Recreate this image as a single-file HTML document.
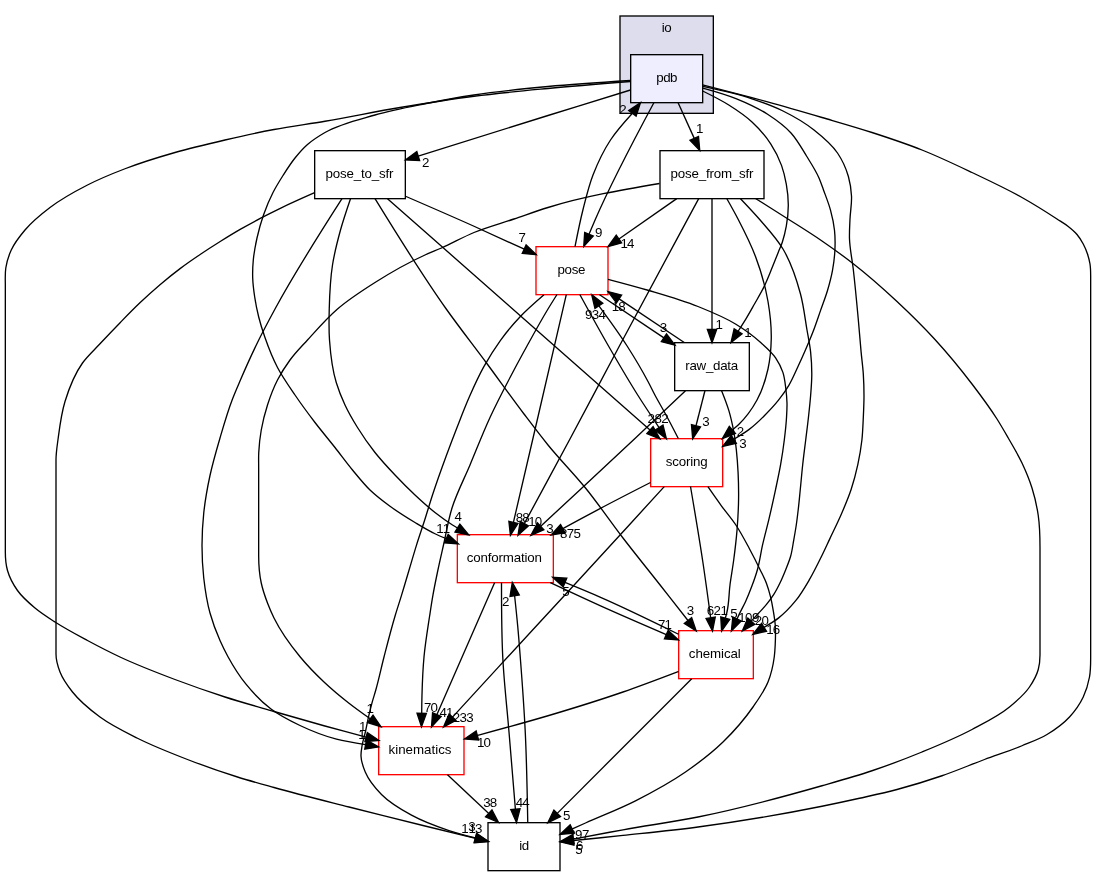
<!DOCTYPE html>
<html lang="en"><head><meta charset="utf-8"><title>src/core/io/pdb Directory Reference</title>
<style>html,body{margin:0;padding:0;background:#fff}svg{display:block;will-change:transform}text{font-family:"Liberation Sans", "DejaVu Sans", sans-serif;font-size:13.33px;fill:#000;text-anchor:middle}.e{fill:none;stroke:#000;stroke-width:1.33}.a{fill:#000;stroke:#000;stroke-width:1.33}.n{stroke-width:1.33}</style></head><body>
<svg width="1096" height="876" viewBox="0 0 1096 876">
<rect x="0" y="0" width="1096" height="876" fill="#fff"/>
<rect class="n" x="620" y="16" width="93.33" height="97.33" fill="#ddddee" stroke="#000"/>
<text x="666.66" y="32.1" textLength="10" lengthAdjust="spacing">io</text>
<rect class="n" x="630.67" y="54.67" width="72" height="48" fill="#eeeeff" stroke="black"/>
<text x="666.87" y="82.37" textLength="21" lengthAdjust="spacing">pdb</text>
<rect class="n" x="314.67" y="150.67" width="90.66" height="48" fill="none" stroke="black"/>
<text x="359.4" y="178.37" textLength="68" lengthAdjust="spacing">pose_to_sfr</text>
<rect class="n" x="660" y="150.67" width="104" height="48" fill="none" stroke="black"/>
<text x="712" y="178.37" textLength="83" lengthAdjust="spacing">pose_from_sfr</text>
<rect class="n" x="536" y="246.67" width="72" height="48" fill="white" stroke="red"/>
<text x="571.5" y="274.37" textLength="28" lengthAdjust="spacing">pose</text>
<rect class="n" x="674.67" y="342.67" width="74.66" height="48" fill="none" stroke="black"/>
<text x="711.7" y="370.37" textLength="53" lengthAdjust="spacing">raw_data</text>
<rect class="n" x="650.67" y="438.67" width="72" height="48" fill="white" stroke="red"/>
<text x="686.67" y="466.37" textLength="42" lengthAdjust="spacing">scoring</text>
<rect class="n" x="457.33" y="534.67" width="96" height="48" fill="white" stroke="red"/>
<text x="504.33" y="562.37" textLength="75" lengthAdjust="spacing">conformation</text>
<rect class="n" x="678.67" y="630.67" width="74.66" height="48" fill="white" stroke="red"/>
<text x="714.8" y="658.37" textLength="52" lengthAdjust="spacing">chemical</text>
<rect class="n" x="378.67" y="726.67" width="85.33" height="48" fill="white" stroke="red"/>
<text x="420.04" y="754.37" textLength="63" lengthAdjust="spacing">kinematics</text>
<rect class="n" x="488" y="822.67" width="72" height="48" fill="none" stroke="black"/>
<text x="524.2" y="850.37" textLength="10" lengthAdjust="spacing">id</text>
<!-- edge pdb to kinematics -->
<path class="e" d="M630.5,81.5C602.99,83.69 575.47,85.88 548,88.5C523.31,90.85 498.59,93.1 474,96.25C449.26,99.42 424.6,103.38 400,107.5C374.94,111.7 350.05,116.98 325,121.25C308.02,124.14 290.92,126.31 274,129.5C257.59,132.59 241.27,136.23 225,140C208.27,143.88 191.5,147.77 175,152.5C158.16,157.33 141.34,162.46 125,168.75C112.3,173.64 99.6,178.81 87.5,185C74.55,191.62 61.56,198.73 50,207.5C41.11,214.25 32.18,221.49 25,230C19.82,236.14 14.57,242.73 11.25,250C8.68,255.64 6.75,261.86 5.8,268C4.94,273.55 5.33,279.33 5.33,285L5.33,552C5.33,558.21 5.84,564.61 7.5,570.5C9.49,577.57 13.25,584.5 17.5,590.5C22.21,597.15 28.7,602.72 35,608C41.21,613.21 48.17,617.59 55,622C65.46,628.76 76.52,634.6 87.5,640.5C98.2,646.25 109.01,651.84 120,657C137.92,665.41 156.47,672.51 175,679.5C191.51,685.74 208.2,691.59 225,697C241.21,702.22 257.64,706.75 274,711.5C290.64,716.33 307.29,721.14 324,725.75C338.01,729.62 352.07,733.33 366.12,737.05"/><polygon class="a" points="364.92,741.56 379,740.5 367.33,732.54"/>
<!-- edge pdb to conformation -->
<path class="e" d="M630.5,80.5C602.97,82.2 575.44,83.9 548,86.5C523.29,88.84 498.53,91.25 474,95C457.61,97.51 441.26,100.48 425,103.75C408.26,107.12 391.4,110.32 375,115C358.05,119.84 340.16,123.7 325,132.5C318.93,136.02 312.78,139.86 307.5,144.5C302.92,148.52 298.84,153.24 295,158C290.57,163.49 286.79,169.53 283,175.5C279.48,181.05 275.99,186.66 273,192.5C269.3,199.73 266.19,207.33 263.5,215C260.87,222.5 258.73,230.24 257,238C255.39,245.25 253.99,252.61 253.3,260C252.74,265.96 252.5,272.01 252.7,278C252.91,284.35 253.75,290.71 254.7,297C255.71,303.72 257.05,310.41 258.7,317C260.4,323.75 262.52,330.42 264.8,337C268.41,347.39 272.42,357.77 277.5,367.5C282.51,377.1 288.89,386.02 295,395C301.37,404.37 308.12,413.5 315,422.5C321.48,430.98 328.39,439.12 335,447.5C340.88,454.96 346.45,462.68 352.5,470C358.14,476.82 363.64,483.88 370,490C376.17,495.93 383.09,501.17 390,506.25C398,512.12 406.48,517.39 415,522.5C421.56,526.43 428.11,530.45 435,533.75C438.7,535.52 442.49,537.1 446.28,538.67"/><polygon class="a" points="444.41,542.95 458.5,544 448.15,534.39"/>
<!-- edge pdb to pose_to_sfr -->
<path class="e" d="M630.5,90C603,98.48 575.49,106.97 548,115.5C504.72,128.93 461.47,142.48 418.22,156.03"/><polygon class="a" points="416.83,151.57 405.5,160 419.62,160.48"/>
<!-- edge pose to pdb -->
<path class="e" d="M575,246.67C577.42,234.39 579.84,222.12 582.9,210C585.87,198.23 588.64,186.28 593,175C597.69,162.89 603.37,150.83 610.5,140C616.8,130.43 624.6,121.85 632.41,113.27"/><polygon class="a" points="636.13,116.1 640.5,102.67 628.7,110.43"/>
<!-- edge pdb to pose -->
<path class="e" d="M654,102.5C633.42,140.83 612.85,179.17 595.5,219C593.29,224.06 591.14,229.15 588.99,234.24"/><polygon class="a" points="584.69,232.41 583.75,246.5 593.28,236.08"/>
<!-- edge pdb to pose_from_sfr -->
<path class="e" d="M678,102.5L694.25,138.36"/><polygon class="a" points="689.99,140.29 699.75,150.5 698.5,136.43"/>
<!-- edge pdb to id -->
<path class="e" d="M702.5,84.8C724.24,90.37 745.97,95.94 767.6,101.9C785.78,106.91 803.9,112.19 822,117.5C838.7,122.4 855.45,127.13 872,132.5C888.79,137.95 905.61,143.47 922,150C938.96,156.76 955.49,164.67 972,172.5C988.83,180.49 1005.79,188.35 1022,197.5C1033.91,204.22 1045.54,211.51 1057,219C1060.77,221.47 1064.73,223.71 1068.25,226.5C1071.34,228.94 1074.46,231.51 1077,234.5C1079.43,237.37 1081.47,240.67 1083.25,244C1084.95,247.18 1086.36,250.57 1087.5,254C1088.58,257.25 1089.46,260.62 1090,264C1090.63,267.94 1090.67,271.99 1090.67,276L1090.67,655C1090.67,662.34 1090.81,669.83 1089.5,677C1088.25,683.82 1086.2,690.76 1083.25,697C1079.83,704.23 1074.91,711.12 1069.5,717C1063.14,723.91 1055.09,729.65 1047,734.5C1039.22,739.16 1030.43,742.25 1022,745.75C1009.71,750.86 996.97,754.84 984.5,759.5C970.29,764.81 956.33,770.82 942,775.75C927.18,780.85 912.15,785.48 897,789.5C884.6,792.79 872.03,795.45 859.5,798.25C847.03,801.04 834.52,803.71 822,806.25C780.93,814.57 739.53,821.49 698,827C673.07,830.31 648.01,832.73 623,835.4C606.49,837.16 589.98,838.85 573.46,840.53"/><polygon class="a" points="572.98,835.88 560.2,841.9 573.94,845.17"/>
<!-- edge pdb to chemical -->
<path class="e" d="M702.67,86.4C719.31,89.91 735.96,93.41 752,98.8C762.51,102.33 773.08,106.1 783,111C793.83,116.34 804.54,122.54 814,130C822.55,136.75 831.47,144.06 837.5,153C842.25,160.04 846.06,168.27 848.4,176.5C850.18,182.77 851.14,189.47 851.5,196C851.92,203.62 850.34,211.33 850,219C849.71,225.66 849.27,232.35 849.5,239C849.85,249.04 852.09,258.99 853.25,269C855.17,285.64 856.72,302.32 858.25,319C859.26,329.96 860.06,340.94 861.1,351.9C861.79,359.24 862.82,366.55 863.3,373.9C863.78,381.18 864,388.5 864,395.8C864,403.1 863.64,410.41 863.3,417.7C862.95,425.14 862.72,432.61 861.9,440C860.98,448.28 859.56,456.55 857.8,464.7C856.01,472.99 853.86,481.25 851.2,489.3C848.43,497.7 844.91,505.87 841.4,514C837.82,522.31 833.75,530.41 829.9,538.6C827.17,544.4 824.53,550.25 821.7,556C817.78,563.99 813.89,572.03 809.4,579.7C805.18,586.9 800.94,594.24 795.7,600.7C790.58,607.02 784.83,613.12 778.4,618.1C773.93,621.57 768.98,624.44 764.02,627.31"/><polygon class="a" points="761.51,623.38 752.8,634.5 766.54,631.24"/>
<!-- edge pdb to scoring -->
<path class="e" d="M702.67,88C714.16,91.17 725.64,94.33 736.6,98.8C747.27,103.15 757.97,108.04 767.6,114.3C775.92,119.71 784.35,125.7 791,133C797.15,139.76 801.65,148.14 806.5,156C810.93,163.17 815.63,170.29 819,178C820.71,181.9 822.04,185.99 823.5,190C825.93,196.66 828.65,203.27 830.5,210.1C832.28,216.68 833.77,223.43 834.5,230.2C835.21,236.84 835.23,243.62 834.9,250.3C834.57,257.02 833.71,263.78 832.5,270.4C831.26,277.18 829.46,283.89 827.5,290.5C825.48,297.29 822.85,303.9 820.5,310.6C818.11,317.41 815.88,324.27 813.3,331C810.72,337.74 807.88,344.38 805,351C802.74,356.2 800.4,361.36 798,366.5C795,372.91 792.32,379.54 788.7,385.6C785.67,390.68 782.18,395.55 778.5,400.2C774.44,405.34 769.92,410.15 765.3,414.8C760.2,419.93 754.96,425.05 749.2,429.4C744.35,433.06 739.08,436.18 733.81,439.29"/><polygon class="a" points="731.29,435.36 722.6,446.5 736.34,443.22"/>
<!-- edge pdb to raw_data -->
<path class="e" d="M702.67,91C711.57,95.37 720.47,99.74 728.8,105C736.89,110.11 745.02,115.52 752,122C758.99,128.49 765.51,135.91 770.7,143.9C775.08,150.64 778.89,158.02 781.6,165.6C783.74,171.59 785.19,177.92 786.3,184.2C787.51,191.04 788.29,198.07 788.3,205C788.31,212.07 787.56,219.24 786.3,226.2C785.32,231.59 784.05,237 782.3,242.2C781.15,245.62 779.64,248.94 778.3,252.3C775.63,259.01 772.99,265.74 770.2,272.4C768.24,277.08 766.39,281.83 764.2,286.4C761.22,292.61 757.59,298.5 754.2,304.5C751.53,309.22 748.9,313.96 746.1,318.6C743.53,322.86 740.82,327.05 738.12,331.23"/><polygon class="a" points="734.17,328.74 731,342.5 742.07,333.73"/>
<!-- edge pose_to_sfr to id -->
<path class="e" d="M314.6,192.7C303.27,197.7 291.94,202.7 280.8,208.1C274.05,211.37 267.34,214.72 260.7,218.2C253.94,221.75 247.22,225.39 240.6,229.2C233.85,233.09 227.21,237.17 220.6,241.3C213.84,245.53 207.12,249.84 200.5,254.3C193.71,258.87 186.95,263.5 180.4,268.4C173.53,273.54 166.84,278.95 160.3,284.5C153.43,290.33 146.74,296.4 140.2,302.6C133.33,309.12 126.72,315.92 120.1,322.7C113.31,329.65 106.62,336.69 100,343.8C94.1,350.14 87.48,356.04 82.5,363C74.4,374.34 69.1,388.12 65,401.5C61.4,413.25 59.82,425.74 58.2,438C57.24,445.3 56,452.63 56,460L56,654C56,660.15 57.82,666.35 60,672C62.79,679.23 67.69,685.87 72.5,692C80.08,701.66 90.09,709.7 100,717C111.5,725.47 124.68,731.81 137.5,738.25C153.66,746.36 170.62,752.97 187.5,759.5C203.96,765.86 220.66,771.72 237.5,777C249.58,780.78 261.81,784.1 274,787.5C298.88,794.43 323.97,800.62 349,807C373.97,813.37 398.98,819.58 424,825.75C441.17,829.98 458.36,834.16 475.55,838.34"/><polygon class="a" points="474.44,842.87 488.5,841.5 476.66,833.8"/>
<!-- edge pose_to_sfr to kinematics -->
<path class="e" d="M342,198.67C318.74,234.92 295.48,271.18 275,309C269.45,319.26 263.92,329.55 258.75,340C252.09,353.47 245.92,367.19 240,381C237.44,386.97 234.83,392.94 232.5,399C227.6,411.73 223.83,424.9 220,438C216.37,450.41 212.72,462.87 210,475.5C207.33,487.87 205.08,500.42 203.75,513C202.61,523.77 202,534.67 202,545.5C202,556.33 202.53,567.24 203.75,578C205.08,589.75 206.84,601.62 210,613C212.6,622.36 216.06,631.59 220,640.5C222.43,646 225.11,651.43 228,656.7C233.26,666.29 239.14,675.73 246,684.2C253.35,693.27 261.71,702 271,709C279.81,715.63 289.99,720.73 300,725.5C311.7,731.07 323.99,735.89 336.5,739.2C346,741.71 355.79,743.15 365.59,744.58"/><polygon class="a" points="364.74,749.17 378.7,747 366.44,739.98"/>
<!-- edge pose_to_sfr to conformation -->
<path class="e" d="M350.5,198.67C346.95,209.06 343.41,219.44 340.5,230C337.33,241.53 334.37,253.21 332.5,265C330.21,279.48 329.63,294.31 329.25,309C328.98,319.32 328.77,329.72 329.5,340C330.51,354.27 332.11,368.84 336.25,382.5C338.57,390.16 341.6,397.73 345,405C348.62,412.76 352.99,420.22 357.5,427.5C362.85,436.14 368.7,444.53 375,452.5C381.21,460.36 388.11,467.71 395,475C401.47,481.85 408.11,488.57 415,495C421.47,501.04 428.03,507.04 435,512.5C440.64,516.91 446.45,521.16 452.5,525C454.13,526.03 455.78,527.03 457.44,528.03"/><polygon class="a" points="455,532.01 468.8,535 459.88,524.05"/>
<!-- edge pose_to_sfr to chemical -->
<path class="e" d="M375,198.67C397.95,236 420.9,273.33 446.25,309C459.25,327.29 473.14,344.96 486.5,363C499.05,379.96 511.24,397.19 524,414C531.9,424.41 539.76,434.86 548,445C559.99,459.75 573.52,473.25 585.5,488C598.62,504.16 610.29,521.49 623,538C635.31,553.98 648.03,569.65 660.5,585.5C669.67,597.16 678.82,608.84 687.97,620.51"/><polygon class="a" points="684.3,623.4 696.2,631 691.65,617.63"/>
<!-- edge pose_to_sfr to scoring -->
<path class="e" d="M387.5,198.67C433,238.78 478.5,278.89 524,319C566,356.03 608,393.06 650,430.08"/><polygon class="a" points="646.91,433.59 660,438.9 653.09,426.58"/>
<!-- edge pose_to_sfr to pose -->
<path class="e" d="M405.5,196.25C428.38,206.15 451.26,216.05 474,226.25C490.77,233.78 507.47,241.47 524.17,249.16"/><polygon class="a" points="522.23,253.41 536.3,254.7 526.11,244.91"/>
<!-- edge pose_from_sfr to kinematics -->
<path class="e" d="M659.5,183.5C621.89,189.91 584.29,196.32 548,207.5C536.58,211.02 525.33,215.17 514,219C500.67,223.5 486.99,227.16 474,232.5C462.92,237.06 452.48,243.15 441.5,248C436.04,250.41 430.44,252.54 425,255C407.69,262.84 391.04,272.33 375,282.5C362.09,290.68 349.04,299.05 337.5,309C326.66,318.35 317.17,329.36 307.5,340C301.54,346.55 295.23,352.89 290,360C285.36,366.31 281.08,373.04 277.5,380C273.41,387.95 270.24,396.48 267.5,405C264.88,413.16 262.73,421.56 261.25,430C259.95,437.42 259.11,444.97 258.75,452.5C258.5,457.65 258.67,462.83 258.67,468L258.67,556C258.67,565.04 259.35,574.21 261.25,583C262.71,589.79 265.03,596.48 267.5,603C269.43,608.09 271.61,613.12 274,618C280.88,632.02 290.32,644.95 300.25,657C307.53,665.84 315.65,674.12 324,682C331.94,689.5 340.4,696.51 349,703.25C355.91,708.66 363.08,713.74 370.25,718.82"/><polygon class="a" points="367.49,722.59 381,726.7 373.01,715.05"/>
<!-- edge pose_from_sfr to pose -->
<path class="e" d="M676.75,198.67L618.93,239.07"/><polygon class="a" points="616.25,235.24 608,246.7 621.6,242.89"/>
<!-- edge pose_from_sfr to conformation -->
<path class="e" d="M698.7,198.67C672.19,247.74 645.67,296.81 619.4,346C603.04,376.63 586.9,407.39 570.5,438C555.2,466.57 539.76,495.07 524.33,523.57"/><polygon class="a" points="520.22,521.35 518,535.3 528.44,525.79"/>
<!-- edge pose_from_sfr to raw_data -->
<path class="e" d="M712,198.67L712,329.34"/><polygon class="a" points="707.33,329.34 712,342.67 716.67,329.34"/>
<!-- edge pose_from_sfr to scoring -->
<path class="e" d="M726.75,198.5C730.58,205.29 734.41,212.08 738,219C744.35,231.24 750.67,243.63 755.5,256.5C760.95,271.03 765.4,286.22 768,301.5C770.1,313.82 771.52,326.51 771.25,339C771.04,349.01 770.17,359.25 768,369C765.63,379.63 762.18,390.48 757,400C752.2,408.83 746.04,417.43 738.7,424.4C736.69,426.31 734.53,428.09 732.38,429.87"/><polygon class="a" points="729.32,426.34 722.3,438.6 735.43,433.4"/>
<!-- edge pose_from_sfr to chemical -->
<path class="e" d="M740.5,198.67C746.86,205.35 753.22,212.03 759.25,219C767.59,228.64 776.54,238.17 783,249C791.15,262.67 796.36,278.52 800.5,294C803.64,305.73 804.95,317.98 807,330C808.24,337.29 809.8,344.56 810.6,351.9C811.39,359.19 811.8,366.57 811.8,373.9C811.8,381.2 811.17,388.51 810.6,395.8C810.03,403.11 809.21,410.41 808.4,417.7C807.58,425.14 806.6,432.57 805.7,440C804.7,448.23 803.6,456.46 802.7,464.7C801.8,472.89 801.12,481.1 800.3,489.3C799.64,495.87 799.06,502.44 798.3,509C797.66,514.51 797.02,520.02 796.2,525.5C795.46,530.45 794.58,535.38 793.7,540.3C792.76,545.54 792.13,550.89 790.7,556C789.39,560.67 787.5,565.18 785.7,569.7C783.98,574.01 782.22,578.32 780.2,582.5C778.24,586.55 776.21,590.6 773.8,594.4C771.6,597.88 769.1,601.2 766.5,604.4C763.93,607.56 761.05,610.48 758.3,613.5C755.97,616.06 753.63,618.61 751.29,621.16"/><polygon class="a" points="747.85,618.01 742.3,631 754.74,624.31"/>
<!-- edge pose_from_sfr to id -->
<path class="e" d="M755.5,198.5C766.35,205.3 777.21,212.11 788,219C799.38,226.27 810.88,233.36 822,241C832.18,247.99 842.25,255.19 852,262.75C867.63,274.87 882.53,288.01 897,301.5C909.92,313.54 922.56,325.99 934.5,339C947.69,353.37 960.16,368.49 972,384C980.69,395.39 989.35,406.89 997,419C1000.93,425.22 1004.59,431.62 1008.25,438C1012.98,446.25 1017.96,454.41 1022,463C1025.81,471.11 1029.32,479.46 1032,488C1034.8,496.94 1036.9,506.23 1038.25,515.5C1039.81,526.2 1040,537.15 1040,548L1040,655C1040,659.87 1039.51,664.87 1038.25,669.5C1036.56,675.7 1033.11,681.67 1029.5,687C1024.28,694.71 1016.72,701.05 1009.5,707C998.33,716.21 984.85,722.67 972,729.5C955.89,738.06 938.89,745.05 922,752C905.55,758.77 888.86,765.07 872,770.75C855.52,776.3 838.73,780.97 822,785.75C781.03,797.47 739.76,808.62 698,817C673.15,821.99 647.95,825.26 623,829.8C606.41,832.82 589.85,836.02 573.3,839.22"/><polygon class="a" points="572.43,834.63 560.2,841.7 574.17,843.81"/>
<!-- edge pose to raw_data -->
<path class="e" d="M599.25,294.5L663.93,337.83"/><polygon class="a" points="661.33,341.71 675,345.25 666.52,333.95"/>
<!-- edge raw_data to pose -->
<path class="e" d="M684.25,342.5L619.08,298.91"/><polygon class="a" points="621.68,295.03 608,291.5 616.48,302.79"/>
<!-- edge scoring to pose -->
<path class="e" d="M678.3,438.5C674.1,430.3 669.89,422.1 665.5,414C662.04,407.63 658.3,401.41 654.9,395C652.53,390.54 650.37,385.96 648,381.5C641.56,369.38 634.49,357.56 627.1,346C618.3,332.22 608.59,319.02 598.89,305.82"/><polygon class="a" points="602.83,303.3 591.7,294.6 594.96,308.34"/>
<!-- edge pose to scoring -->
<path class="e" d="M579.8,294.5C589.24,311.74 598.68,328.98 608.5,346C618,362.47 627.55,378.93 637.7,395C644.63,405.97 651.86,416.77 659.08,427.56"/><polygon class="a" points="655.18,430.12 666.4,438.7 662.99,424.99"/>
<!-- edge pose to conformation -->
<path class="e" d="M566.3,294.67C557.01,334.78 547.72,374.89 538.4,415C530.09,450.78 521.75,486.55 513.42,522.32"/><polygon class="a" points="508.87,521.26 510.4,535.3 517.97,523.38"/>
<!-- edge pose to chemical -->
<path class="e" d="M608,279.3C621.37,282.81 634.75,286.33 648,290.25C664.8,295.23 681.77,299.97 698,306.5C710.77,311.64 723.79,316.84 735.5,324C744.35,329.41 752.97,335.56 760.7,342.5C765.98,347.24 771.64,351.98 775.6,357.8C778.62,362.25 781.2,367.29 782.9,372.4C784.6,377.52 785.11,383.1 785.8,388.5C786.42,393.34 786.88,398.23 787,403.1C787.12,407.96 786.79,412.84 786.5,417.7C786.06,425.15 785.21,432.59 784.3,440C783.29,448.26 782.05,456.5 780.6,464.7C779.15,472.94 777.34,481.11 775.6,489.3C773.5,499.19 771.32,509.06 769,518.9C766.93,527.69 764.5,536.39 762.5,545.2C760.66,553.33 759.66,561.69 757.4,569.7C755.84,575.24 753.91,580.7 751.9,586.1C749.94,591.36 747.86,596.61 745.5,601.7C743.79,605.39 741.76,608.93 740,612.6C738.99,614.7 738.02,616.81 737.04,618.92"/><polygon class="a" points="732.81,616.95 731.4,631 741.27,620.9"/>
<!-- edge pose to kinematics -->
<path class="e" d="M557,294.5C553.97,299.32 550.95,304.13 548,309C540.66,321.13 533.85,333.58 527,346C522.61,353.97 518.26,361.96 514,370C505.7,385.68 497.43,401.4 490,417.5C482.8,433.09 476.65,449.16 470,465C463.99,479.33 456.61,493.22 452,508C448.25,520.04 446.28,532.66 443.5,545C441.47,553.99 439.38,562.98 437.5,572C435.88,579.78 434.28,587.57 432.9,595.4C431.72,602.08 430.72,608.79 429.7,615.5C427.6,629.3 425.29,643.11 424,657C422.84,669.45 422.35,681.99 422,694.5C421.82,700.79 421.76,707.08 421.71,713.37"/><polygon class="a" points="417.04,713.3 421.5,726.7 426.38,713.44"/>
<!-- edge pose to id -->
<path class="e" d="M544,294.67C535.95,301.6 527.89,308.54 520.6,316.2C513.4,323.76 506.64,331.86 500.5,340.3C494.46,348.61 489,357.42 484,366.4C478.59,376.11 474,386.32 469.5,396.5C465.11,406.43 461.25,416.59 457.3,426.7C453.5,436.43 449.8,446.2 446.2,456C441.45,468.93 436.78,481.91 432.5,495C429.79,503.3 427.36,511.68 424.7,520C422.02,528.38 419.12,536.7 416.5,545.1C413.89,553.47 411.5,561.9 409,570.3C406.5,578.67 404.06,587.05 401.5,595.4C399.44,602.11 397.21,608.77 395.2,615.5C391.1,629.23 387.58,643.13 384,657C381.17,667.97 378.89,679.1 375.8,690C374.59,694.28 373.17,698.51 372,702.8C370.84,707.04 369.79,711.32 368.8,715.6C367.62,720.71 366.75,725.88 365.6,731C364.48,736.02 362.78,740.93 362,746C361.49,749.3 360.88,752.7 361,756C361.19,761.43 363.16,766.99 365.25,772C368.76,780.4 375.13,787.97 381.5,794.5C389.86,803.07 400.91,809.38 411.5,815.2C423.27,821.67 436.19,826.37 449,830.6C457.64,833.45 466.5,835.69 475.36,837.93"/><polygon class="a" points="474.11,842.43 488.2,841.5 476.61,833.43"/>
<!-- edge raw_data to scoring -->
<path class="e" d="M705,390.5L696,425.78"/><polygon class="a" points="691.47,424.63 692.7,438.7 700.52,426.94"/>
<!-- edge raw_data to conformation -->
<path class="e" d="M685.5,390.67C668.86,406.47 652.22,422.28 635.5,438C617,455.4 598.41,472.71 579.8,490C566.78,502.1 553.73,514.17 540.68,526.24"/><polygon class="a" points="537.51,522.82 530.9,535.3 543.85,529.67"/>
<!-- edge raw_data to chemical -->
<path class="e" d="M721.6,390.67C724.2,397.19 726.79,403.71 728.8,410.4C730.95,417.57 732.53,424.94 733.9,432.3C736.39,445.65 737.4,459.32 738.1,472.9C738.52,481.08 738.67,489.3 738.6,497.5C738.5,508.47 737.89,519.46 737,530.4C736.19,540.29 735.01,550.16 733.7,560C732.64,568.02 731.18,575.98 730.1,584C728.8,593.64 729.18,603.6 726.75,613C726.3,614.74 725.78,616.46 725.27,618.18"/><polygon class="a" points="720.78,616.9 721.6,631 729.76,619.47"/>
<!-- edge scoring to conformation -->
<path class="e" d="M650.5,482.5C633.62,491.11 616.74,499.73 600,508.6C587.56,515.19 575.19,521.93 562.83,528.67"/><polygon class="a" points="560.61,524.56 551.1,535 565.05,532.78"/>
<!-- edge scoring to chemical -->
<path class="e" d="M690.5,486.5C694.84,511.97 699.18,537.45 703,563C705.73,581.24 708.19,599.52 710.66,617.8"/><polygon class="a" points="706.03,618.44 712.5,631 715.28,617.15"/>
<!-- edge scoring to kinematics -->
<path class="e" d="M664.25,486.67C633.86,519.87 603.47,553.08 573,586.2C550.86,610.26 528.64,634.24 506.5,658.3C488.49,677.88 470.5,697.48 452.52,717.08"/><polygon class="a" points="449.08,713.92 443.5,726.9 455.96,720.24"/>
<!-- edge scoring to id -->
<path class="e" d="M707.9,486.67C712.35,493.08 716.81,499.49 721.4,505.8C726.23,512.44 731.69,518.66 736.2,525.5C741.05,532.85 745.12,540.73 749.3,548.5C753.05,555.48 756.65,562.56 760.1,569.7C762.29,574.24 764.72,578.7 766.5,583.4C768.18,587.85 769.46,592.48 770.6,597.1C771.71,601.61 772.53,606.21 773.3,610.8C774.06,615.35 774.82,619.92 775.2,624.5C775.76,631.29 775.54,638.18 775.2,645C775,649 774.78,653.03 774.25,657C773.12,665.49 771.18,674.12 768,682C764.4,690.91 758.51,699.04 753,707C744.28,719.59 733.98,731.35 723,742C711.56,753.1 698.62,762.91 685.5,772C669.73,782.92 652.63,792.12 635.5,800.8C619.25,809.03 602.13,815.52 585.5,823C581.05,825 576.6,827.01 572.15,829.02"/><polygon class="a" points="570.23,824.76 560,834.5 574.07,833.28"/>
<!-- edge conformation to chemical -->
<path class="e" d="M550.3,582.7C566.83,590.44 583.36,598.19 600,605.7C621.97,615.62 644.13,625.14 666.29,634.66"/><polygon class="a" points="664.42,638.94 678.5,640 668.15,630.38"/>
<!-- edge chemical to conformation -->
<path class="e" d="M678.5,634.25C652.52,621.45 626.54,608.64 600,597.1C588.4,592.06 576.7,587.25 565,582.45"/><polygon class="a" points="566.8,578.14 552.7,577.3 563.19,586.76"/>
<!-- edge conformation to kinematics -->
<path class="e" d="M494.6,582.67L436.84,714.69"/><polygon class="a" points="432.56,712.82 431.5,726.9 441.12,716.56"/>
<!-- edge conformation to id -->
<path class="e" d="M501.5,582.5C501.51,607.35 501.51,632.21 502.75,657C504,682.04 506.92,707 509,732C511.14,757.74 513.27,783.48 515.4,809.22"/><polygon class="a" points="510.75,809.6 516.5,822.5 520.05,808.83"/>
<!-- edge id to conformation -->
<path class="e" d="M527.75,822.5C527.24,792.32 526.72,762.14 525.25,732C524.03,706.98 522.19,681.98 520.25,657C519.45,646.66 518.65,636.32 517.7,626C516.77,615.9 515.7,605.81 514.62,595.73"/><polygon class="a" points="519.22,594.91 512.3,582.6 510.02,596.54"/>
<!-- edge chemical to kinematics -->
<path class="e" d="M678.5,671.5C660.06,678.52 641.63,685.54 623,692C598.23,700.58 573.14,708.29 548,715.75C524.57,722.71 500.95,729.06 477.34,735.42"/><polygon class="a" points="476.09,730.93 464.5,739 478.59,739.92"/>
<!-- edge chemical to id -->
<path class="e" d="M691.75,678.67L557.22,813.37"/><polygon class="a" points="553.92,810.07 547.8,822.8 560.52,816.67"/>
<!-- edge kinematics to id -->
<path class="e" d="M447.25,774.5L488.77,813.39"/><polygon class="a" points="485.58,816.8 498.5,822.5 491.96,809.98"/>
<text x="425.75" y="166.6">2</text>
<text x="622.9" y="113.85">2</text>
<text x="598.75" y="237.35">9</text>
<text x="699.75" y="133.1">1</text>
<text x="522.25" y="242.35">7</text>
<text x="627.5" y="247.85" textLength="14" lengthAdjust="spacing">14</text>
<text x="719.25" y="328.6">1</text>
<text x="748" y="337.35">1</text>
<text x="618.75" y="311.1" textLength="14" lengthAdjust="spacing">18</text>
<text x="663.5" y="332.35">3</text>
<text x="595.5" y="318.6" textLength="21" lengthAdjust="spacing">934</text>
<text x="658.1" y="422.6" textLength="21" lengthAdjust="spacing">282</text>
<text x="706" y="426.1">3</text>
<text x="740.5" y="436.1">2</text>
<text x="743" y="448.1">3</text>
<text x="443.2" y="533.2" textLength="14" lengthAdjust="spacing">11</text>
<text x="458.2" y="520.9">4</text>
<text x="522.75" y="522.1" textLength="14" lengthAdjust="spacing">88</text>
<text x="535.25" y="525.85" textLength="14" lengthAdjust="spacing">10</text>
<text x="550" y="532.6">3</text>
<text x="570.5" y="537.6" textLength="21" lengthAdjust="spacing">875</text>
<text x="505.75" y="605.85">2</text>
<text x="566" y="596.35">5</text>
<text x="665" y="628.85" textLength="14" lengthAdjust="spacing">71</text>
<text x="690.5" y="614.6">3</text>
<text x="717.3" y="615" textLength="21" lengthAdjust="spacing">621</text>
<text x="734" y="617.6">5</text>
<text x="748.8" y="621.6" textLength="21" lengthAdjust="spacing">109</text>
<text x="761.8" y="625.4" textLength="14" lengthAdjust="spacing">20</text>
<text x="773.2" y="634.1" textLength="14" lengthAdjust="spacing">16</text>
<text x="370.25" y="712.85">1</text>
<text x="362.8" y="731.4">1</text>
<text x="362" y="739.4">1</text>
<text x="431" y="712.35" textLength="14" lengthAdjust="spacing">70</text>
<text x="446.5" y="717.1" textLength="14" lengthAdjust="spacing">41</text>
<text x="463.25" y="722.35" textLength="21" lengthAdjust="spacing">233</text>
<text x="484" y="747.1" textLength="14" lengthAdjust="spacing">10</text>
<text x="490.25" y="807.1" textLength="14" lengthAdjust="spacing">38</text>
<text x="522.75" y="807.1" textLength="14" lengthAdjust="spacing">44</text>
<text x="465" y="833">1</text>
<text x="472" y="831.1">3</text>
<text x="475.5" y="833.2" textLength="14" lengthAdjust="spacing">13</text>
<text x="566.75" y="819.6">5</text>
<text x="578.8" y="838.8" textLength="21" lengthAdjust="spacing">297</text>
<text x="579.7" y="849.7">6</text>
<text x="579" y="854.2">5</text>
</svg></body></html>
